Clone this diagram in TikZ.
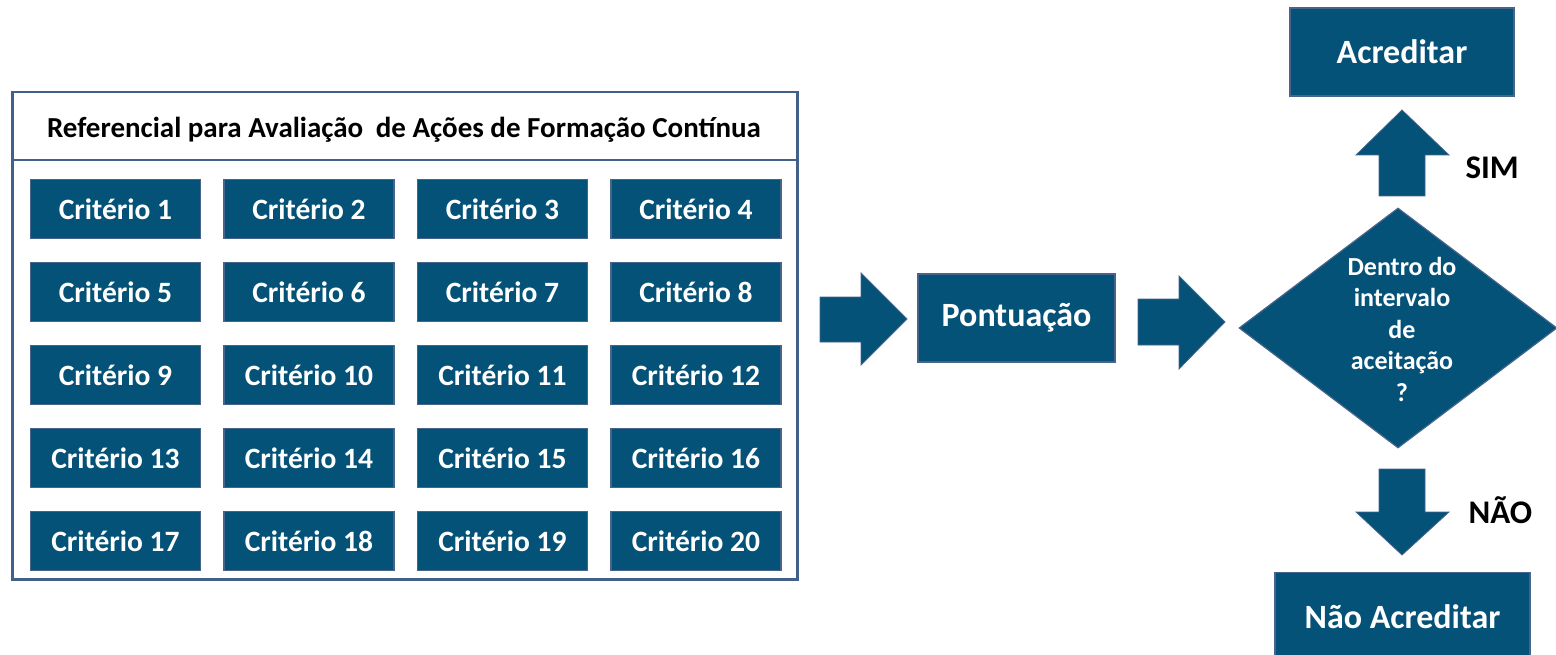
\documentclass[tikz,border=0pt]{standalone}
\usepackage{fontspec}
\setmainfont{Carlito}
\usetikzlibrary{shapes.geometric}
\definecolor{boxfill}{RGB}{4,82,120}
\definecolor{boxline}{RGB}{70,100,140}
\definecolor{frameline}{RGB}{65,96,138}
\tikzset{
  crit/.style={draw=boxline, line width=1.2pt, fill=boxfill, minimum width=170pt, minimum height=59pt, inner sep=0pt, text=white, font=\fontsize{29.5}{34}\selectfont\bfseries},
  bigbox/.style={draw=boxline, line width=1.2pt, fill=boxfill, inner sep=0pt, text=white, font=\fontsize{34}{38}\selectfont\bfseries},
  blockarrow/.style={fill=boxfill, draw=boxline, line width=0.8pt},
  lbl/.style={font=\fontsize{33}{36}\selectfont\bfseries, text=black}
}
\begin{document}
\begin{tikzpicture}[x=1pt,y=-1pt]
\useasboundingbox (0,0) rectangle (1556,655);
% frame
\node[draw=frameline, line width=2.5pt, minimum width=785pt, minimum height=487pt, inner sep=0pt, anchor=north west] (frame) at (11,91) {};
\draw[frameline, line width=2.5pt] (11,160) coordinate (sepL) -- (796,160) coordinate (sepR);
\node[font=\fontsize{29}{32}\selectfont\bfseries] (title) at (404,130) {Referencial para Avaliação\hspace{6pt} de Ações de Formação Contínua};
% criteria
\foreach \r in {0,...,4}{
  \foreach \c in {0,...,3}{
    \pgfmathtruncatemacro{\n}{\r*4+\c+1}
    \node[crit] (c\n) at ({115.5+193.5*\c},{209+83*\r}) {Critério \n};
  }
}
% arrow 1
\draw[blockarrow] (820,297) -- (861,297) -- (861,273) -- (907,319) -- (861,365) -- (861,342) -- (820,342) -- cycle;
% Pontuacao
\node[bigbox, minimum width=197pt, minimum height=88pt] (pont) at (1016.5,318) {Pontuação};
% arrow 2
\draw[blockarrow] (1138,299) -- (1179,299) -- (1179,276) -- (1225,322) -- (1179,369) -- (1179,345) -- (1138,345) -- cycle;
% diamond
\node[diamond, draw=boxline, line width=1.2pt, fill=boxfill, minimum width=318pt, minimum height=240pt, inner sep=0pt, aspect=1.32] (dec) at (1398,328) {};
\node[text=white, font=\fontsize{26}{31.5}\selectfont\bfseries, align=center] (dectext) at (1402,329) {Dentro do\\intervalo\\de\\aceitação\\?};
% Acreditar
\node[bigbox, minimum width=224pt, minimum height=88pt] (acr) at (1402,52) {Acreditar};
% up arrow
\draw[blockarrow] (1379,196) -- (1379,155) -- (1356,155) -- (1402,110) -- (1449,155) -- (1425,155) -- (1425,196) -- cycle;
\node[lbl, anchor=west] (sim) at (1462,168) {SIM};
% down arrow
\draw[blockarrow] (1379,469) -- (1425,469) -- (1425,512) -- (1449,512) -- (1402,555) -- (1356,512) -- (1379,512) -- cycle;
\node[lbl, anchor=west] (nao) at (1465,510) {NÃO};
% Nao Acreditar
\node[bigbox, minimum width=255pt, minimum height=100pt, anchor=north] (nacr) at (1402.5,572) {};
\node[text=white, font=\fontsize{34}{38}\selectfont\bfseries] (nacrtext) at (1402.5,617) {Não Acreditar};
\end{tikzpicture}
\end{document}
